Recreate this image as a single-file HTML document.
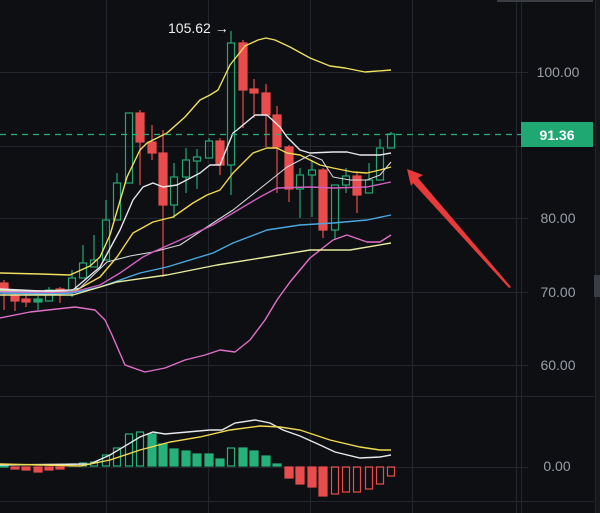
<!DOCTYPE html>
<html><head><meta charset="utf-8"><style>
html,body{margin:0;padding:0;background:#0e0f12;}
svg{display:block;}
text{font-family:"Liberation Sans",sans-serif;}
</style></head><body>
<svg width="600" height="513" viewBox="0 0 600 513" xmlns="http://www.w3.org/2000/svg">
<rect width="600" height="513" fill="#0e0f12"/>
<g stroke="#23262c" stroke-width="1">
<line x1="0" y1="72.5" x2="528" y2="72.5"/>
<line x1="0" y1="146.5" x2="528" y2="146.5"/>
<line x1="0" y1="218.5" x2="528" y2="218.5"/>
<line x1="0" y1="292.5" x2="528" y2="292.5"/>
<line x1="0" y1="365.5" x2="528" y2="365.5"/>
<line x1="0" y1="396.5" x2="594" y2="396.5"/>
<line x1="0" y1="467.5" x2="528" y2="467.5"/>
<line x1="0" y1="501.5" x2="594" y2="501.5"/>
<line x1="106.5" y1="0" x2="106.5" y2="513"/>
<line x1="208.5" y1="0" x2="208.5" y2="513"/>
<line x1="310.5" y1="0" x2="310.5" y2="513"/>
<line x1="412.5" y1="0" x2="412.5" y2="513"/>
<line x1="516.5" y1="0" x2="516.5" y2="513"/>
<line x1="521.5" y1="0" x2="521.5" y2="513"/>
<line x1="595.5" y1="0" x2="595.5" y2="513"/>
</g>
<rect x="596" y="0" width="4" height="513" fill="#15171b"/>
<rect x="594" y="275" width="6" height="22" fill="#3a3d44"/>
<rect x="497" y="0" width="96" height="2" fill="#3a3d44"/>

<!-- candles -->
<g stroke-width="1.2">
<g stroke="#e84c4c" fill="#e84c4c">
<line x1="4" y1="280" x2="4" y2="310"/><rect x="0" y="283" width="8" height="9"/>
<line x1="15" y1="292" x2="15" y2="311"/><rect x="11" y="295" width="8" height="6"/>
<line x1="26" y1="292" x2="26" y2="307"/><rect x="22" y="299" width="8" height="3"/>
<line x1="60" y1="287" x2="60" y2="303"/><rect x="56" y="289" width="8" height="4"/>
<line x1="140" y1="110" x2="140" y2="185"/><rect x="136" y="113" width="8" height="29"/>
<line x1="152" y1="125" x2="152" y2="160"/><rect x="148" y="142" width="8" height="11"/>
<line x1="163" y1="130" x2="163" y2="277"/><rect x="159" y="153" width="8" height="52"/>
<line x1="220" y1="138" x2="220" y2="175"/><rect x="216" y="141" width="8" height="24"/>
<line x1="243" y1="40" x2="243" y2="128"/><rect x="239" y="43" width="8" height="47"/>
<line x1="254" y1="79" x2="254" y2="118"/><rect x="250" y="89" width="8" height="4"/>
<line x1="266" y1="84" x2="266" y2="147"/><rect x="262" y="93" width="8" height="22"/>
<line x1="277" y1="106" x2="277" y2="193"/><rect x="273" y="115" width="8" height="32"/>
<line x1="289" y1="145" x2="289" y2="202"/><rect x="285" y="147" width="8" height="42"/>
<line x1="323" y1="168" x2="323" y2="238"/><rect x="319" y="170" width="8" height="60"/>
<line x1="357" y1="173" x2="357" y2="213"/><rect x="353" y="176" width="8" height="19"/>
</g>
<g stroke="#26a772" fill="none">
<line x1="38" y1="296" x2="38" y2="310"/><rect x="34" y="299" width="8" height="3" fill="#26a772"/>
<line x1="49" y1="287" x2="49" y2="290"/><rect x="45.5" y="290" width="7" height="11"/>
<line x1="72" y1="270" x2="72" y2="278"/><line x1="72" y1="290" x2="72" y2="297"/><rect x="68.5" y="278" width="7" height="12"/>
<line x1="83" y1="245" x2="83" y2="263"/><rect x="79.5" y="263" width="7" height="15"/>
<line x1="94" y1="235" x2="94" y2="260"/><rect x="90.5" y="260" width="7" height="7"/>
<line x1="106" y1="200" x2="106" y2="220"/><rect x="102.5" y="220" width="7" height="40"/>
<line x1="117" y1="173" x2="117" y2="183"/><rect x="113.5" y="183" width="7" height="37"/>
<rect x="125.5" y="113" width="7" height="70"/>
<line x1="174" y1="163" x2="174" y2="177"/><line x1="174" y1="205" x2="174" y2="218"/><rect x="170.5" y="177" width="7" height="28"/>
<line x1="186" y1="148" x2="186" y2="160"/><line x1="186" y1="177" x2="186" y2="193"/><rect x="182.5" y="160" width="7" height="17"/>
<line x1="197" y1="149" x2="197" y2="157"/><line x1="197" y1="161" x2="197" y2="189"/><rect x="193.5" y="157" width="7" height="4"/>
<line x1="209" y1="138" x2="209" y2="141"/><rect x="205.5" y="141" width="7" height="17"/>
<line x1="231" y1="31" x2="231" y2="43"/><line x1="231" y1="165" x2="231" y2="195"/><rect x="227.5" y="43" width="7" height="122"/>
<line x1="300" y1="168" x2="300" y2="175"/><line x1="300" y1="189" x2="300" y2="218"/><rect x="296.5" y="175" width="7" height="14"/>
<line x1="312" y1="160" x2="312" y2="170"/><line x1="312" y1="175" x2="312" y2="217"/><rect x="308.5" y="170" width="7" height="5"/>
<line x1="335" y1="230" x2="335" y2="240"/><rect x="331.5" y="185" width="7" height="45"/>
<line x1="346" y1="168" x2="346" y2="176"/><line x1="346" y1="185" x2="346" y2="193"/><rect x="342.5" y="176" width="7" height="9"/>
<line x1="369" y1="163" x2="369" y2="180"/><rect x="365.5" y="180" width="7" height="13"/>
<line x1="380" y1="139" x2="380" y2="148"/><rect x="376.5" y="148" width="7" height="32"/>
<line x1="391" y1="132" x2="391" y2="134"/><rect x="387.5" y="134" width="7" height="14"/>
</g>
</g>

<!-- MAs -->
<g fill="none" stroke-width="1.4" stroke-linejoin="round">
<polyline stroke="#f0e060" points="0,273 40,274 70,275 90,266 100,257 110,235 127,177 140,150 147,143 167,133 185,117 200,100 210,95 218,90 230,65 245,46 258,40 266,38 275,40 290,47 310,58 330,66 345,68 365,72 391,70"/>
<polyline stroke="#e070c8" points="0,318 30,312 75,307 95,310 105,320 112,335 125,365 145,372 165,368 185,360 205,355 220,350 235,352 250,340 265,320 277,300 290,282 310,258 333,240 347,235 367,242 380,242 391,235"/>
<polyline stroke="#f0d850" points="0,290 40,291 73,292 100,277 117,257 133,233 153,222 173,217 193,203 207,195 220,190 233,173 253,153 267,148 277,148 287,153 300,155 320,165 333,168 353,172 367,173 380,170 391,167"/>
<polyline stroke="#e8e8ec" points="0,289 40,291 73,290 100,267 120,230 133,200 143,187 153,183 163,187 177,185 200,173 210,165 220,165 233,133 237,130 255,115 267,115 280,127 287,137 300,150 310,153 333,152 347,152 360,155 380,155 391,153"/>
<polyline stroke="#d8d8dc" stroke-width="1.1" points="0,291 60,292 80,288 107,262 130,256 153,252 180,245 213,223 233,210 267,183 287,167 310,155 322,160 333,177 350,180 367,180 380,175 391,162"/>
<polyline stroke="#d060c0" points="0,292 50,293 73,292 100,285 120,273 143,257 153,252 180,240 213,225 233,213 260,197 277,188 310,187 333,188 367,187 391,182"/>
<polyline stroke="#4aa8e0" points="0,293 50,294 73,293 100,287 140,273 167,267 213,253 233,243 267,230 300,225 333,223 367,220 391,215"/>
<polyline stroke="#e8eca0" points="0,295 73,295 117,282 167,275 217,265 267,257 310,250 350,250 391,243"/>
</g>

<!-- price line -->
<line x1="0" y1="134.5" x2="521" y2="134.5" stroke="#2bb07c" stroke-width="1.3" stroke-dasharray="6,5"/>
<rect x="521" y="122" width="72" height="25" fill="#1fa872"/>
<text x="557" y="140" font-size="14" font-weight="bold" fill="#ffffff" text-anchor="middle">91.36</text>

<!-- axis labels -->
<g font-size="14" fill="#9a9ea8" text-anchor="middle">
<text x="558" y="77">100.00</text>
<text x="558" y="223">80.00</text>
<text x="558" y="297">70.00</text>
<text x="558" y="370">60.00</text>
<text x="557" y="471">0.00</text>
</g>
<text x="168" y="33" font-size="14" fill="#f0f0f0">105.62 →</text>

<!-- arrow -->
<polygon fill="#e83a3a" points="407,169 423,175 418,178 511,287 509,288 413,183 411,186"/>

<!-- MACD histogram -->
<g stroke-width="1.2">
<g fill="#e84c4c" stroke="#e84c4c">
<rect x="11" y="467" width="8" height="2"/><rect x="22" y="467" width="8" height="3"/><rect x="34" y="467" width="8" height="5"/><rect x="45" y="467" width="8" height="3"/><rect x="56" y="467" width="8" height="2"/>
<rect x="285" y="467" width="8" height="11"/><rect x="296" y="467" width="8" height="17"/><rect x="308" y="467" width="8" height="20"/><rect x="319" y="467" width="8" height="29"/>
</g>
<g fill="none" stroke="#e84c4c">
<rect x="331.5" y="467" width="7" height="27"/><rect x="342.5" y="467" width="7" height="25"/><rect x="353.5" y="467" width="7" height="25"/><rect x="365.5" y="467" width="7" height="22"/><rect x="376.5" y="467" width="7" height="17"/><rect x="387.5" y="467" width="7" height="9"/>
</g>
<g fill="#26b07a" stroke="#26b07a">
<rect x="0" y="465" width="8" height="2"/>
<rect x="148" y="434" width="8" height="32"/><rect x="159" y="444" width="8" height="22"/><rect x="170" y="449" width="8" height="17"/><rect x="182" y="451" width="8" height="15"/><rect x="193" y="454" width="8" height="12"/><rect x="205" y="454" width="8" height="12"/><rect x="216" y="459" width="8" height="7"/>
<rect x="239" y="448" width="8" height="18"/><rect x="250" y="451" width="8" height="15"/><rect x="262" y="456" width="8" height="10"/><rect x="273" y="464" width="8" height="2"/>
</g>
<g fill="none" stroke="#26b07a">
<rect x="68.5" y="464" width="7" height="2"/><rect x="79.5" y="463" width="7" height="3"/><rect x="90.5" y="462" width="7" height="4"/>
<rect x="102.5" y="455" width="7" height="11"/><rect x="113.5" y="448" width="7" height="18"/><rect x="125.5" y="434" width="7" height="32"/><rect x="136.5" y="432" width="7" height="34"/>
<rect x="227.5" y="448" width="7" height="18"/>
</g>
</g>
<g fill="none" stroke-width="1.4">
<polyline stroke="#e8e8ec" points="0,465 90,464 110,455 140,437 153,432 165,434 210,430 222,430 235,423 255,420 270,423 283,430 300,436 320,445 335,452 360,458 380,457 391,455"/>
<polyline stroke="#f0dc50" points="0,464 80,466 110,460 140,450 170,442 200,437 230,430 260,426 280,427 300,430 330,440 360,447 380,450 391,450"/>
</g>
</svg>
</body></html>
